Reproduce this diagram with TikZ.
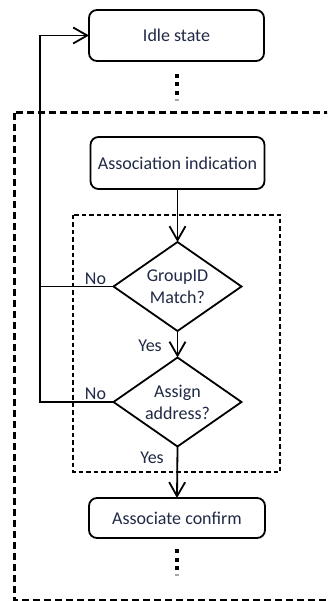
\documentclass[tikz,border=0pt]{standalone}
\usepackage{fontspec}
\setmainfont{Carlito}
\usetikzlibrary{shapes.geometric,arrows.meta}
\definecolor{ink}{RGB}{32,42,70}
\begin{document}
\begin{tikzpicture}[x=1pt,y=-1pt,
  every node/.style={font=\fontsize{18}{22}\selectfont, text=ink},
  stepbox/.style={draw=black, line width=1.8pt, rounded corners=8pt, inner sep=0pt, outer sep=0pt},
  decision/.style={draw=black, line width=1.8pt, diamond, aspect=1.44, inner sep=0pt, outer sep=0pt,
    minimum width=128pt, minimum height=89pt, align=center},
  flow/.style={line width=1.8pt, draw=black},
  arrowflow/.style={flow, -{Straight Barb[length=14pt,width=16pt,line width=1.8pt]}},
  label/.style={inner sep=0pt},
  dots/.style={line width=4pt, dash pattern=on 4pt off 4.5pt}
]
\useasboundingbox (0,0) rectangle (327,601);
\fill[white] (0,0) rectangle (327,601);

% outer and inner dashed regions
\begin{scope}
  \clip (0,0) rectangle (327,601);
  \draw[line width=3pt, dash pattern=on 7pt off 4pt] (14,113) rectangle (340,600);
\end{scope}
\draw[line width=1.5pt, dash pattern=on 4.5pt off 3pt] (73,215) rectangle (280,472);

% states
\node[stepbox, minimum width=175pt, minimum height=51pt] (idle) at (176.5,35.5) {Idle state};
\node[stepbox, minimum width=174pt, minimum height=52pt] (ind) at (177.5,163) {Association indication};
\node[stepbox, minimum width=176pt, minimum height=40pt] (conf) at (177,518) {Associate confirm};

% decisions
\node[decision] (match) at (177.5,286.5) {GroupID\\Match?};
\node[decision] (assign) at (177.5,402) {Assign\\address?};

% continuation dots
\coordinate (d1a) at (177,74);
\coordinate (d1b) at (177,95);
\draw[dots] (d1a) -- (d1b);
\draw[line width=4pt, black!35] (177,99) -- (177,101);
\coordinate (d2a) at (177,549);
\coordinate (d2b) at (177,570);
\draw[dots] (d2a) -- (d2b);
\draw[line width=4pt, black!35] (177,574) -- (177,576);

% main flow
\draw[arrowflow] (ind.south) -- (match.north);
\draw[arrowflow] (match.south) -- (assign.north);
\draw[arrowflow] (assign.south) -- (conf.north);

% rejection paths back to idle
\coordinate (j1) at (40,286.5);
\coordinate (j2) at (40,402);
\coordinate (top) at (40,35.5);
\draw[flow] (match.west) -- (j1);
\draw[arrowflow] (assign.west) -- (j2) -- (top) -- (idle.west);

% branch labels
\node[label] at (95.5,279) {No};
\node[label] at (95.5,394) {No};
\node[label] at (150,346) {Yes};
\node[label] at (152,458) {Yes};
\end{tikzpicture}
\end{document}
